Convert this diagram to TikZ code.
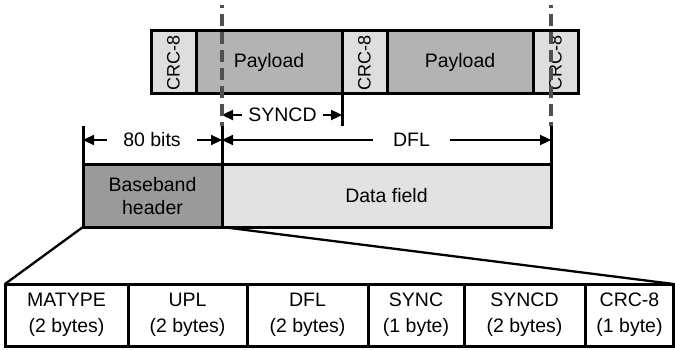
\documentclass[tikz,border=0pt]{standalone}
\usepackage{fontspec}
\setmainfont{Liberation Sans}
\usetikzlibrary{arrows.meta}
\definecolor{crcgray}{HTML}{DEDEDE}
\definecolor{paygray}{HTML}{B3B3B3}
\definecolor{hdrgray}{HTML}{9A9A9A}
\definecolor{datagray}{HTML}{E2E2E2}
\definecolor{dashgray}{HTML}{505050}
\tikzset{
  box/.style={draw, line width=3pt, inner sep=0pt, outer sep=0pt, anchor=center,
    font=\fontsize{19.5}{23}\selectfont, align=center},
  crcbox/.style={box, fill=crcgray, minimum width=45pt, minimum height=63pt},
  paybox/.style={box, fill=paygray, minimum width=146pt, minimum height=63pt},
  cell/.style={box, fill=white, minimum height=62pt, font=\fontsize{19.5}{26}\selectfont},
  rot/.style={rotate=90, font=\fontsize{18}{20}\selectfont, inner sep=0pt},
  lbl/.style={font=\fontsize{19.5}{23}\selectfont, inner ysep=0pt},
  arr/.style={line width=2.3pt, -{Triangle[length=11pt,width=10pt]}},
  tick/.style={line width=3pt},
  guide/.style={line width=3.5pt, draw=dashgray, dash pattern=on 12pt off 6pt},
  fan/.style={line width=2.3pt},
}
\begin{document}
\begin{tikzpicture}[x=1pt,y=-1pt]
\useasboundingbox (0,0) rectangle (675,350);
% top bar
\node[crcbox] (c1) at (173.5,62.5) {};
\node[paybox] (p1) at (269,62.5) {Payload};
\node[crcbox] (c2) at (364.5,62.5) {};
\node[paybox] (p2) at (460,62.5) {Payload};
\node[crcbox] (c3) at (555.5,62.5) {};
\node[rot] (c1t) at (c1) {CRC-8};
\node[rot] (c2t) at (c2) {CRC-8};
\node[rot] (c3t) at (c3) {CRC-8};
% baseband frame
\node[box, fill=hdrgray, minimum width=139pt, minimum height=62pt] (hdr) at (152.5,196) {Baseband\\header};
\node[box, fill=datagray, minimum width=329pt, minimum height=62pt] (data) at (386.5,196) {Data field};
% header fields
\node[cell, minimum width=123pt] (m1) at (66.5,315) {MATYPE\\(2 bytes)};
\node[cell, minimum width=119pt] (m2) at (187.5,315) {UPL\\(2 bytes)};
\node[cell, minimum width=121pt] (m3) at (307.5,315) {DFL\\(2 bytes)};
\node[cell, minimum width=96pt] (m4) at (416,315) {SYNC\\(1 byte)};
\node[cell, minimum width=121pt] (m5) at (524.5,315) {SYNCD\\(2 bytes)};
\node[cell, minimum width=88pt] (m6) at (629.5,315) {CRC-8\\(1 byte)};
% fan lines
\draw[fan] (hdr.south west) -- (m1.north west);
\draw[fan] (hdr.south east) -- (m6.north east);
% extension lines
\coordinate (v0) at (83,126);
\coordinate (v1) at (222,126);
\coordinate (v2) at (551,126);
\coordinate (v3) at (342,126);
\draw[tick] (v0) -- (hdr.north west);
\draw[tick] (v1) -- (hdr.north east);
\draw[tick] (v2) -- (data.north east);
\draw[tick] (p1.south east) -- (v3);
% dimension arrows
\coordinate (a0) at (83,140);
\coordinate (a1) at (222,140);
\coordinate (a2) at (551,140);
\coordinate (s0) at (222,115);
\coordinate (s1) at (342,115);
\node[lbl, inner xsep=16pt] (t80) at (152,140) {80 bits};
\node[lbl, inner xsep=20pt] (tdfl) at (411.5,140) {DFL};
\node[lbl, inner xsep=6.5pt] (tsync) at (282.5,115) {SYNCD};
\draw[arr] (t80.west) -- (a0);
\draw[arr] (t80.east) -- (a1);
\draw[arr] (tdfl.west) -- (a1);
\draw[arr] (tdfl.east) -- (a2);
\draw[arr] (tsync.west) -- (s0);
\draw[arr] (tsync.east) -- (s1);
% dashed guides
\coordinate (g0) at (222,5);
\coordinate (g1) at (551,5);
\draw[guide, dash phase=9pt] (g0) -- (v1);
\draw[guide, dash phase=9pt] (g1) -- (v2);
\end{tikzpicture}
\end{document}
